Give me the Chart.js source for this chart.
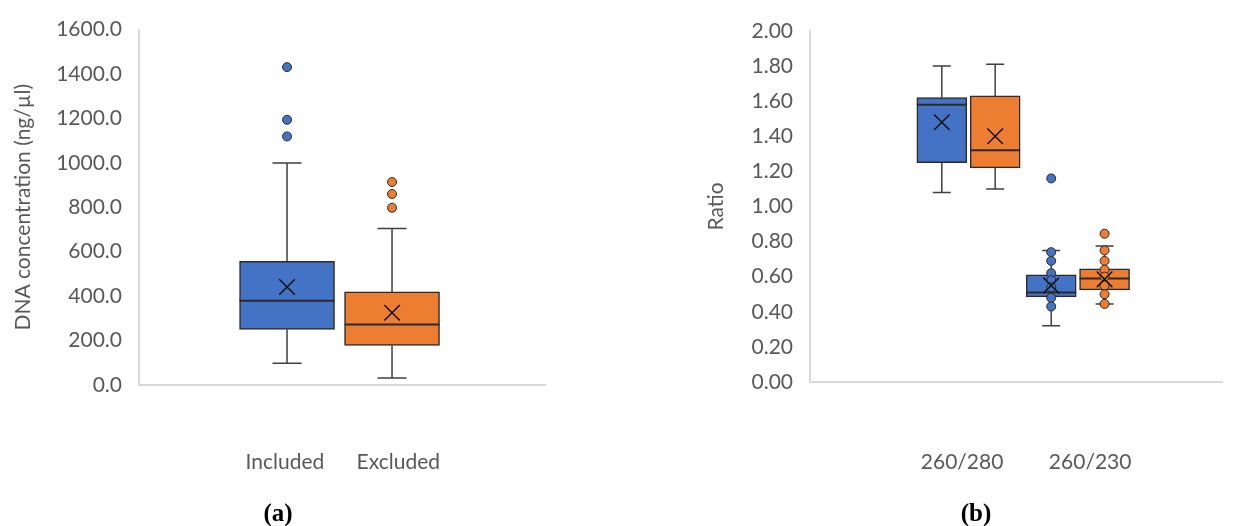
<!DOCTYPE html>
<html>
<head>
<meta charset="utf-8">
<script src="https://cdn.jsdelivr.net/npm/chart.js@4.4.1/dist/chart.umd.min.js"></script>
<style>
  html, body { margin: 0; padding: 0; background: #fff; }
  body { width: 1235px; height: 526px; position: relative; overflow: hidden; }
  canvas { position: absolute; top: 0; }
  #concChart { left: 0; }
  #ratioChart { left: 620px; }
  .cap { position: absolute; top: 499px; line-height: 30px; font: bold 25px 'Liberation Serif', serif; color: #000; transform: translateX(-50%); }
</style>
</head>
<body>
<canvas id="concChart" width="560" height="526"></canvas>
<canvas id="ratioChart" width="615" height="526"></canvas>
<div class="cap" style="left:278px">(a)</div>
<div class="cap" style="left:976px">(b)</div>
<script>
// (a) DNA concentration (ng/µl), one box per group
const concLabels = ['Included', 'Excluded'];
const concMin = [98, 31];
const concQ1 = [250, 178];
const concMedian = [379, 272];
const concQ3 = [557, 419];
const concMax = [1000, 705];
const concMean = [441, 325];
const concOutliers = [[1431, 1194, 1119], [914, 860, 798]];
const concTicks = [0, 200, 400, 600, 800, 1000, 1200, 1400, 1600];

// (b) purity ratios, Included (blue) vs Excluded (orange) per ratio
const ratioLabels = ['260/280', '260/230'];
const incMin = [1.08, 0.32];
const incQ1 = [1.25, 0.485];
const incMedian = [1.58, 0.51];
const incQ3 = [1.62, 0.61];
const incMax = [1.80, 0.75];
const incMean = [1.48, 0.55];
const incPoints = [[], [1.16, 0.74, 0.69, 0.62, 0.58, 0.54, 0.48, 0.43]];
const excMin = [1.10, 0.445];
const excQ1 = [1.22, 0.525];
const excMedian = [1.32, 0.59];
const excQ3 = [1.63, 0.645];
const excMax = [1.81, 0.775];
const excMean = [1.40, 0.585];
const excPoints = [[], [0.845, 0.75, 0.69, 0.64, 0.60, 0.55, 0.50, 0.445]];
const ratioTicks = [0, 0.2, 0.4, 0.6, 0.8, 1.0, 1.2, 1.4, 1.6, 1.8, 2.0];

const BLUE = '#4472C4';
const ORANGE = '#ED7D31';
const EDGE = '#2b2b2b';
const TEXT = '#595959';
const AXIS = '#d9d9d9';
const FONT = 'Lato, "Liberation Sans", sans-serif';

// whiskers behind the boxes, medians right after each box dataset
function boxPlugin(boxes, capWidth) {
  return {
    id: 'boxLines',
    beforeDatasetsDraw(chart) {
      const { ctx, scales: { x, y } } = chart;
      ctx.save();
      ctx.strokeStyle = '#404040';
      ctx.lineWidth = 1.5;
      boxes.forEach(b => {
        const px = x.getPixelForValue(b.x);
        const top = y.getPixelForValue(b.max);
        const bot = y.getPixelForValue(b.min);
        ctx.beginPath();
        ctx.moveTo(px, top); ctx.lineTo(px, y.getPixelForValue(b.q3));
        ctx.moveTo(px, y.getPixelForValue(b.q1)); ctx.lineTo(px, bot);
        ctx.moveTo(px - capWidth / 2, top); ctx.lineTo(px + capWidth / 2, top);
        ctx.moveTo(px - capWidth / 2, bot); ctx.lineTo(px + capWidth / 2, bot);
        ctx.stroke();
      });
      ctx.restore();
    },
    afterDatasetDraw(chart, args) {
      const ds = chart.data.datasets[args.index];
      if (!ds.medians) return;
      const { ctx, scales: { y } } = chart;
      ctx.save();
      ctx.strokeStyle = EDGE;
      ctx.lineWidth = 2;
      args.meta.data.forEach((bar, i) => {
        const py = y.getPixelForValue(ds.medians[i]);
        ctx.beginPath();
        ctx.moveTo(bar.x - bar.width / 2, py);
        ctx.lineTo(bar.x + bar.width / 2, py);
        ctx.stroke();
      });
      ctx.restore();
    }
  };
}

function yScale(ticks, digits, titleText, titlePad, axisWidth) {
  return {
    type: 'linear',
    min: ticks[0],
    max: ticks[ticks.length - 1],
    afterBuildTicks: s => { s.ticks = ticks.map(v => ({ value: v })); },
    afterFit: s => { s.width = axisWidth; },
    grid: { display: false, drawTicks: false },
    border: { display: true, color: AXIS, width: 2 },
    ticks: { color: TEXT, font: { family: FONT, size: 21 }, padding: 17, callback: v => Number(v).toFixed(digits) },
    title: { display: true, text: titleText, color: TEXT, font: { family: FONT, size: 21 }, padding: { top: titlePad, bottom: 0 } }
  };
}

function xScale(min, max, labels, labelAt, pad, height) {
  return {
    type: 'linear',
    min: min,
    max: max,
    offset: false,
    afterBuildTicks: s => { s.ticks = labelAt.map(v => ({ value: v })); },
    afterFit: s => { s.height = height; },
    grid: { display: false, drawTicks: false, offset: false },
    border: { display: true, color: AXIS, width: 2 },
    ticks: { color: TEXT, font: { family: FONT, size: 21 }, padding: pad, autoSkip: false, maxRotation: 0,
      callback: (v, i) => labels[i] }
  };
}

function boxDataset(xs, q1, q3, med, color, width) {
  return {
    type: 'bar',
    data: xs.map((x, i) => ({ x: x, y: [q1[i], q3[i]] })),
    medians: med,
    backgroundColor: color,
    borderColor: EDGE,
    borderWidth: 1.5,
    borderSkipped: false,
    barThickness: width,
    grouped: false,
    order: 3
  };
}

function pointDataset(xs, lists, color) {
  const pts = [];
  lists.forEach((list, i) => list.forEach(v => pts.push({ x: xs[i], y: v })));
  return {
    type: 'scatter', data: pts, pointStyle: 'circle', pointRadius: 4.5,
    backgroundColor: color, borderColor: EDGE, borderWidth: 1, order: 2
  };
}

function meanDataset(xs, means) {
  return {
    type: 'scatter', data: xs.map((x, i) => ({ x: x, y: means[i] })),
    pointStyle: 'crossRot', pointRadius: 11, borderColor: '#111', borderWidth: 1.5,
    backgroundColor: 'rgba(0,0,0,0)', order: 1
  };
}

const commonOpts = {
  responsive: false,
  animation: false,
  plugins: { legend: { display: false }, tooltip: { enabled: false } }
};

// ---- chart (a)
const concX = [0, 1];
const concBoxes = concX.map((x, i) => ({ x: x, min: concMin[i], q1: concQ1[i], q3: concQ3[i], max: concMax[i] }));
new Chart(document.getElementById('concChart'), {
  type: 'bar',
  data: {
    datasets: [
      boxDataset([concX[0]], [concQ1[0]], [concQ3[0]], [concMedian[0]], BLUE, 95),
      boxDataset([concX[1]], [concQ1[1]], [concQ3[1]], [concMedian[1]], ORANGE, 95),
      pointDataset([concX[0]], [concOutliers[0]], BLUE),
      pointDataset([concX[1]], [concOutliers[1]], ORANGE),
      meanDataset(concX, concMean)
    ]
  },
  options: Object.assign({}, commonOpts, {
    layout: { padding: { top: 26, right: 15, left: 0, bottom: 0 } },
    scales: {
      x: xScale(-1.41, 2.457, concLabels, [-0.02, 1.06], 65, 141),
      y: yScale(concTicks, 1, 'DNA concentration (ng/µl)', 11, 139)
    }
  }),
  plugins: [boxPlugin(concBoxes, 29)]
});

// ---- chart (b): blue/orange side by side inside each ratio group
const groupStep = 2.05;
const incX = ratioLabels.map((_, c) => groupStep * c);
const excX = ratioLabels.map((_, c) => groupStep * c + 1);
const ratioBoxes = [];
ratioLabels.forEach((_, c) => {
  ratioBoxes.push({ x: incX[c], min: incMin[c], q1: incQ1[c], q3: incQ3[c], max: incMax[c] });
  ratioBoxes.push({ x: excX[c], min: excMin[c], q1: excQ1[c], q3: excQ3[c], max: excMax[c] });
});
new Chart(document.getElementById('ratioChart'), {
  type: 'bar',
  data: {
    datasets: [
      boxDataset(incX, incQ1, incQ3, incMedian, BLUE, 50),
      boxDataset(excX, excQ1, excQ3, excMedian, ORANGE, 50),
      pointDataset(incX, incPoints, BLUE),
      pointDataset(excX, excPoints, ORANGE),
      meanDataset(incX, incMean),
      meanDataset(excX, excMean)
    ]
  },
  options: Object.assign({}, commonOpts, {
    layout: { padding: { top: 31, right: 0, left: 0, bottom: 0 } },
    scales: {
      x: xScale(-2.47, 5.26, ratioLabels, [0.38, 2.78], 68, 144),
      y: yScale(ratioTicks, 2, 'Ratio', 84, 190)
    }
  }),
  plugins: [boxPlugin(ratioBoxes, 18)]
});
</script>
</body>
</html>
